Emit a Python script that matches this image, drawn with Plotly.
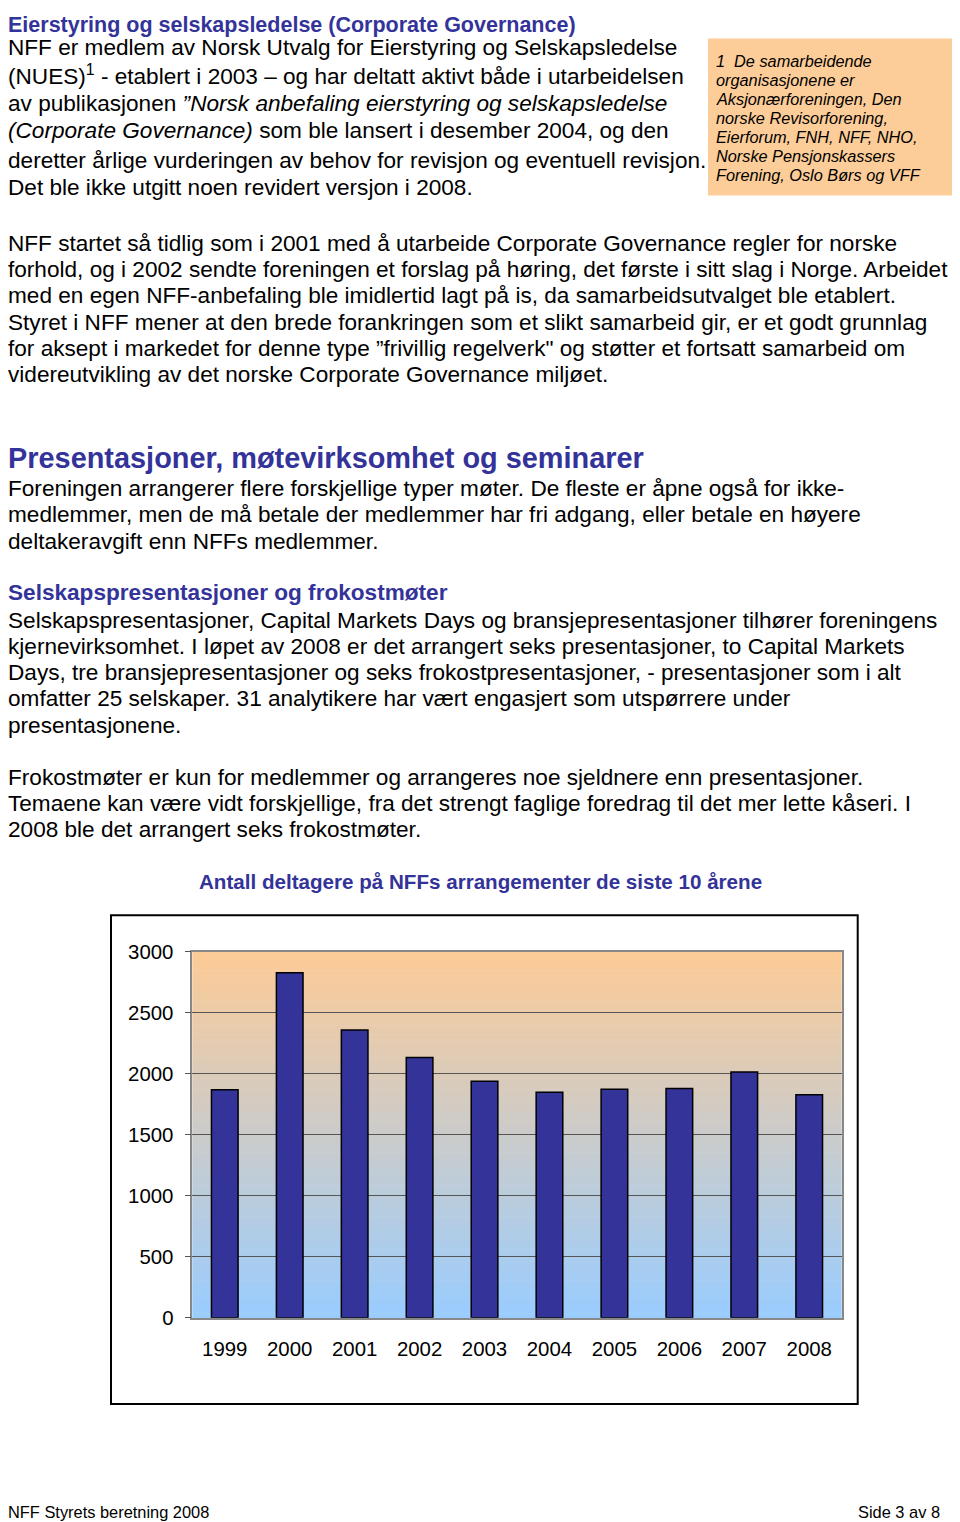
import plotly.graph_objects as go

# data: participants at NFF events per year
years = ["1999", "2000", "2001", "2002", "2003", "2004", "2005", "2006", "2007", "2008"]
deltagere = [1870, 2830, 2360, 2135, 1940, 1850, 1875, 1880, 2015, 1830]
y_ticks = [0, 500, 1000, 1500, 2000, 2500, 3000]

chart_title = "Antall deltagere på NFFs arrangementer de siste 10 årene"

title1 = "Eierstyring og selskapsledelse (Corporate Governance)"
block1 = [
    "NFF er medlem av Norsk Utvalg for Eierstyring og Selskapsledelse",
    "(NUES)<sup>1</sup> - etablert i 2003 – og har deltatt aktivt både i utarbeidelsen",
    "av publikasjonen <i>”Norsk anbefaling eierstyring og selskapsledelse</i>",
    "<i>(Corporate Governance)</i> som ble lansert i desember 2004, og den",
    "deretter årlige vurderingen av behov for revisjon og eventuell revisjon.",
    "Det ble ikke utgitt noen revidert versjon i 2008.",
]
footnote = [
    "1  De samarbeidende",
    "organisasjonene er",
    "Aksjonærforeningen, Den",
    "norske Revisorforening,",
    "Eierforum, FNH, NFF, NHO,",
    "Norske Pensjonskassers",
    "Forening, Oslo Børs og VFF",
]
block2 = [
    "NFF startet så tidlig som i 2001 med å utarbeide Corporate Governance regler for norske",
    "forhold, og i 2002 sendte foreningen et forslag på høring, det første i sitt slag i Norge. Arbeidet",
    "med en egen NFF-anbefaling ble imidlertid lagt på is, da samarbeidsutvalget ble etablert.",
    "Styret i NFF mener at den brede forankringen som et slikt samarbeid gir, er et godt grunnlag",
    "for aksept i markedet for denne type ”frivillig regelverk\" og støtter et fortsatt samarbeid om",
    "videreutvikling av det norske Corporate Governance miljøet.",
]
heading2 = "Presentasjoner, møtevirksomhet og seminarer"
block3 = [
    "Foreningen arrangerer flere forskjellige typer møter. De fleste er åpne også for ikke-",
    "medlemmer, men de må betale der medlemmer har fri adgang, eller betale en høyere",
    "deltakeravgift enn NFFs medlemmer.",
]
heading3 = "Selskapspresentasjoner og frokostmøter"
block4 = [
    "Selskapspresentasjoner, Capital Markets Days og bransjepresentasjoner tilhører foreningens",
    "kjernevirksomhet. I løpet av 2008 er det arrangert seks presentasjoner, to Capital Markets",
    "Days, tre bransjepresentasjoner og seks frokostpresentasjoner, - presentasjoner som i alt",
    "omfatter 25 selskaper. 31 analytikere har vært engasjert som utspørrere under",
    "presentasjonene.",
]
block5 = [
    "Frokostmøter er kun for medlemmer og arrangeres noe sjeldnere enn presentasjoner.",
    "Temaene kan være vidt forskjellige, fra det strengt faglige foredrag til det mer lette kåseri. I",
    "2008 ble det arrangert seks frokostmøter.",
]
footer_left = "NFF Styrets beretning 2008"
footer_right = "Side 3 av 8"

# page layout: body margin of 8px round the figure; measured vertical
# mapping of the final picture is roughly shot = 0.986 * page + 10.5
OFF = 8
W, H = 960 - 2 * OFF, 1530
SY, BY = 0.986, 10.5
FONT = "Liberation Sans, Arial, Helvetica, sans-serif"
NAVY = "#333399"
BODY = 22.6


def px(x):
    # picture pixel -> paper x
    return (x - OFF) / W


def py(y):
    # picture pixel from top -> paper y
    page = (y - BY) / SY
    return 1 - (page - OFF) / H


annotations = []


def text(s, x, y, size=BODY, color="black", bold=False, italic=False, anchor="left"):
    if bold:
        s = "<b>" + s + "</b>"
    if italic:
        s = "<i>" + s + "</i>"
    annotations.append(dict(
        text=s, x=px(x), y=py(y), xref="paper", yref="paper",
        xanchor=anchor, yanchor="middle", showarrow=False, borderpad=0,
        font=dict(family=FONT, size=size, color=color)))


LEFT = 7
text(title1, LEFT, 24.5, size=21.5, bold=True, color=NAVY)  # as high as it fits
for s, y in zip(block1, [47, 74.5, 103, 130, 160, 187]):
    text(s, LEFT, y)
for i, s in enumerate(footnote):
    text(s, 715, 60 + i * 19, size=16.3, italic=True)
for i, s in enumerate(block2):
    text(s, LEFT, 243 + i * 26.2)
text(heading2, LEFT, 458, size=28.9, bold=True, color=NAVY)
for i, s in enumerate(block3):
    text(s, LEFT, 488 + i * 26.4)
text(heading3, LEFT, 592, bold=True, color=NAVY)
for i, s in enumerate(block4):
    text(s, LEFT, 620 + i * 26.2)
for i, s in enumerate(block5):
    text(s, LEFT, 777 + i * 26.2)
text(chart_title, 480, 881, size=20.6, bold=True, color=NAVY, anchor="center")
text(footer_left, LEFT, 1512, size=16.4)
text(footer_right, 941, 1512, size=16.4, anchor="right")

# plot area in picture pixels
x0, x1 = 192.3, 841.7
ytop, ybot = 951.7, 1317.7

shapes = []
# footnote box
shapes.append(dict(type="rect", xref="paper", yref="paper",
                   x0=px(708), x1=px(952), y0=py(195), y1=py(38),
                   fillcolor="#FDCD99", line=dict(width=0), layer="below"))
# outer chart frame
shapes.append(dict(type="rect", xref="paper", yref="paper",
                   x0=px(111), x1=px(857.7), y0=py(1404), y1=py(915),
                   fillcolor="white", line=dict(color="black", width=2), layer="below"))
# gradient background (orange top -> light blue bottom)
top_c = (253, 203, 150)
bot_c = (153, 204, 255)
n = 80
for k in range(n):
    t = (k + 0.5) / n
    c = tuple(int(round(top_c[j] + (bot_c[j] - top_c[j]) * t)) for j in range(3))
    ya = ytop + (ybot - ytop) * k / n
    yb = ytop + (ybot - ytop) * (k + 1) / n + 0.6
    shapes.append(dict(type="rect", xref="paper", yref="paper",
                       x0=px(x0), x1=px(x1), y0=py(yb), y1=py(ya),
                       fillcolor="rgb(%d,%d,%d)" % c, line=dict(width=0), layer="below"))

fig = go.Figure()
fig.add_trace(go.Bar(x=years, y=deltagere,
                     marker=dict(color=NAVY, line=dict(color="black", width=1.5))))

fig.update_layout(
    width=W, height=H,
    margin=dict(l=0, r=0, t=0, b=0),
    paper_bgcolor="white",
    plot_bgcolor="rgba(0,0,0,0)",
    showlegend=False,
    bargap=0.59,
    annotations=annotations,
    shapes=shapes,
    xaxis=dict(domain=[px(x0), px(x1)], showgrid=False, ticks="",
               showline=True, linecolor="#888888", linewidth=1.5, mirror=True,
               tickfont=dict(family=FONT, size=20.4, color="black"),
               ticklabelstandoff=12, fixedrange=True),
    yaxis=dict(domain=[py(ybot), py(ytop)], range=[0, 3000],
               tickvals=y_ticks, showgrid=True, gridcolor="#555555", gridwidth=1,
               ticks="outside", ticklen=6, tickcolor="#555555",
               showline=True, linecolor="#888888", linewidth=1.5, mirror=True,
               zeroline=False,
               tickfont=dict(family=FONT, size=20.4, color="black"),
               ticklabelstandoff=7, fixedrange=True),
)

fig.write_html("out.html")
